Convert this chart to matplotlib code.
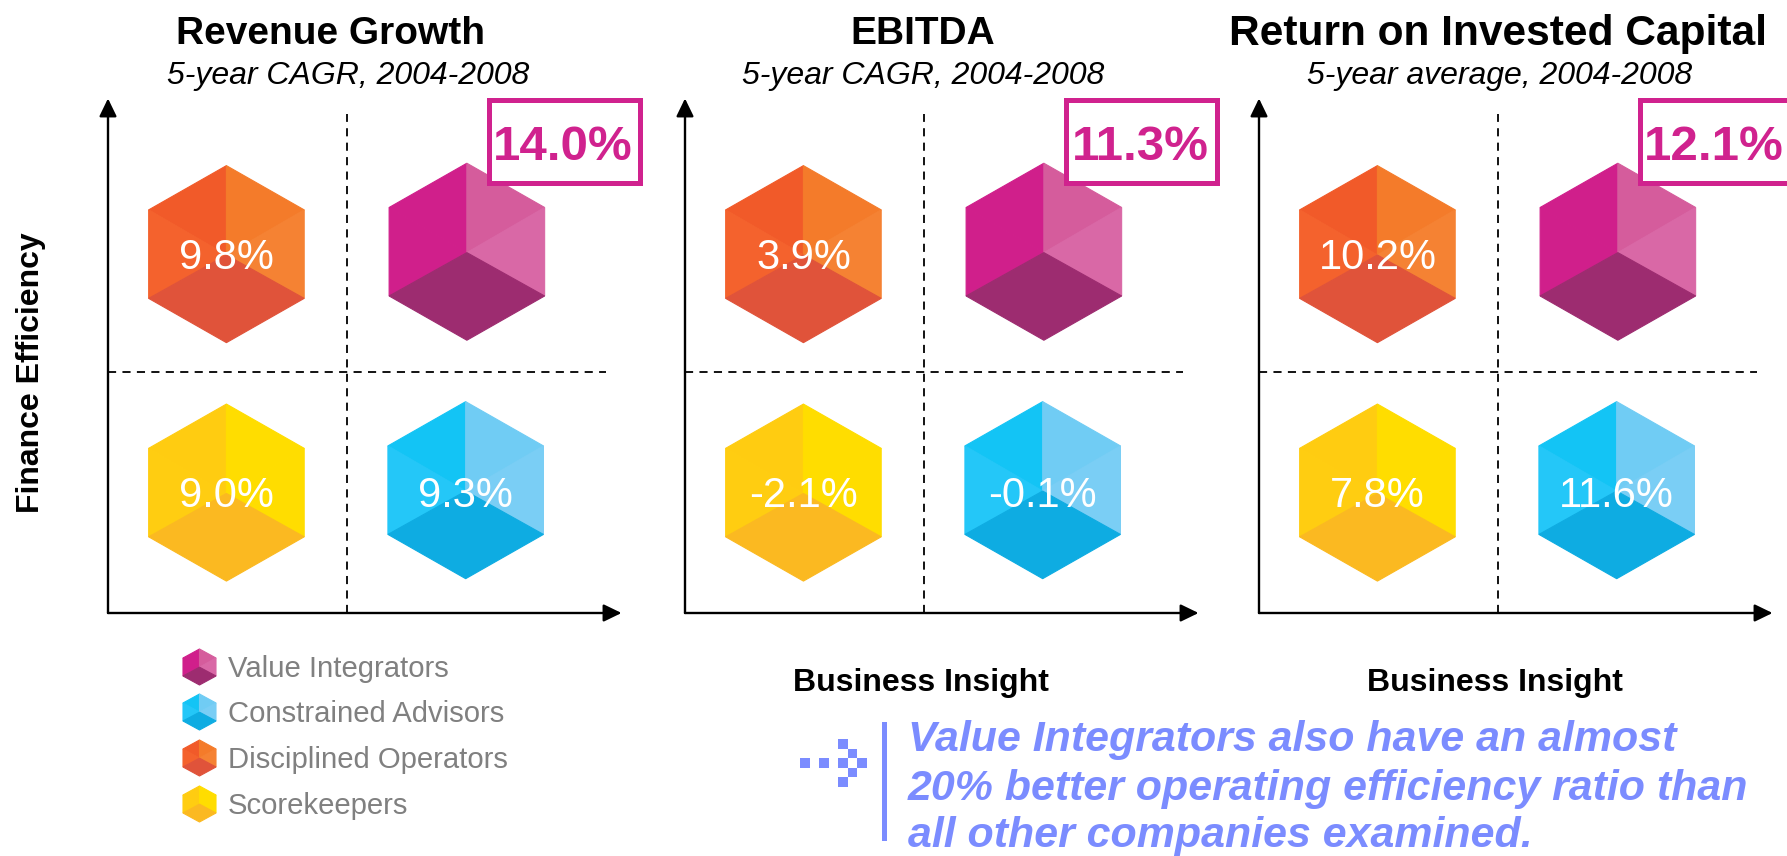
import matplotlib
matplotlib.use('Agg')
import matplotlib.pyplot as plt
from matplotlib.patches import Polygon, Rectangle

plt.rcParams['font.family'] = ['Liberation Sans', 'DejaVu Sans']

W, H = 1787, 856

# data
titles = ['Revenue Growth', 'EBITDA', 'Return on Invested Capital']
subtitles = ['5-year CAGR, 2004-2008', '5-year CAGR, 2004-2008', '5-year average, 2004-2008']
integrators = ['14.0%', '11.3%', '12.1%']
operators = ['9.8%', '3.9%', '10.2%']
scorekeepers = ['9.0%', '-2.1%', '7.8%']
advisors = ['9.3%', '-0.1%', '11.6%']
legend_names = ['Value Integrators', 'Constrained Advisors', 'Disciplined Operators', 'Scorekeepers']
callout = ['Value Integrators also have an almost',
           '20% better operating efficiency ratio than',
           'all other companies examined.']

# face colours: upper left, lower left, upper right, lower right, bottom
pink = ['#D01F8B', '#D01F8B', '#D55C9C', '#D968A6', '#9D2C70']
orange = ['#F15A29', '#F4622D', '#F47B2A', '#F58233', '#E0533A']
yellow = ['#FFCC11', '#FFCD11', '#FFDD00', '#FFDD00', '#FBB921']
blue = ['#13C4F5', '#24C7F8', '#70CCF4', '#7ACEF5', '#0EACE2']


def draw_cube(ax, cx, cy, w, h, cols, zorder=2):
    # hexagon split in five faces, centre point sits a bit under the middle
    t = (cx, cy + h / 2)
    b = (cx, cy - h / 2)
    ul = (cx - w / 2, cy + h * 0.25)
    ll = (cx - w / 2, cy - h * 0.25)
    ur = (cx + w / 2, cy + h * 0.25)
    lr = (cx + w / 2, cy - h * 0.25)
    c = (cx, cy - h * 0.005)
    faces = [[t, ul, c], [ul, ll, c], [t, ur, c], [ur, lr, c], [c, lr, b, ll]]
    for f, col in zip(faces, cols):
        ax.add_patch(Polygon(f, closed=True, fc=col, ec=col, lw=0.8, zorder=zorder))


def px_axes(left, right, top, bottom):
    return fig.add_axes([left / W, 1 - bottom / H, (right - left) / W, (bottom - top) / H])


def axis_arrow(ax, tip):
    ax.annotate('', xy=tip, xytext=(0, 0), xycoords='axes fraction',
                arrowprops=dict(arrowstyle='-|>,head_width=0.33,head_length=0.68', mutation_scale=16,
                                color='black', lw=1.7, shrinkA=0, shrinkB=0),
                annotation_clip=False)


fig = plt.figure(figsize=(W / 100, H / 100), dpi=100)

panel_left = [108, 685, 1259]
title_x = [330, 923, 1498]
title_size = [28, 28, 30.6]
sub_x = [348, 923, 1500]

# overlay in pixel coordinates for the slide furniture
over = fig.add_axes([0, 0, 1, 1], zorder=5)
over.set_xlim(0, W)
over.set_ylim(H, 0)
over.axis('off')
over.patch.set_alpha(0)

for i, left in enumerate(panel_left):
    ax = px_axes(left, left + 512, 100, 613)
    ax.set_xlim(0, 2.14)
    ax.set_ylim(0, 2.13)
    ax.axis('off')

    axis_arrow(ax, (0, 1.003))
    axis_arrow(ax, (1.003, 0))
    ax.plot([1, 1], [0, 2.07], color='black', lw=1.3, dashes=(4.5, 3.5), zorder=1)
    ax.plot([0, 2.08], [1, 1], color='black', lw=1.3, dashes=(4.5, 3.5), zorder=1)

    # x, y, colours, value, y of the value label
    quadrants = [(0.495, 1.49, orange, operators[i], 1.473), (1.5, 1.5, pink, None, None),
                 (0.495, 0.5, yellow, scorekeepers[i], 0.487), (1.495, 0.51, blue, advisors[i], 0.487)]
    for qx, qy, cols, val, ly in quadrants:
        draw_cube(ax, qx, qy, 0.65, 0.735, cols)
        if val is not None:
            ax.text(qx, ly, val, color='white', fontsize=30, ha='center', va='center', zorder=3)

    # highlighted value box, the last one runs off the slide
    over.add_patch(Rectangle((left + 381, 100), 151, 83, fc='white', ec='#D0228E', lw=3.6, zorder=3))
    over.text(left + 455, 147, integrators[i], color='#D0228E', fontsize=35.5, fontweight='bold',
              ha='center', va='center', zorder=4)

    over.text(title_x[i], 34, titles[i], fontsize=title_size[i], fontweight='bold', ha='center', va='center')
    over.text(sub_x[i], 76, subtitles[i], fontsize=23, fontstyle='italic', ha='center', va='center')

over.text(31, 373, 'Finance Efficiency', fontsize=23, fontweight='bold', rotation=90, ha='center', va='center')
over.text(921, 683, 'Business Insight', fontsize=23, fontweight='bold', ha='center', va='center')
over.text(1495, 683, 'Business Insight', fontsize=23, fontweight='bold', ha='center', va='center')

# legend
leg_y = [667, 712, 758, 804]
for name, cols, y in zip(legend_names, [pink, blue, orange, yellow], leg_y):
    # y axis of the overlay is flipped, so the cube gets a negative height
    draw_cube(over, 199.5, y, 33, -36, cols)
    over.text(228, y + 2, name, color='#808080', fontsize=21.1, ha='left', va='center')

# callout
arrow_col = '#7B8CFF'
cell = 9.5
arrow_cells = [(0, 0), (2, 0), (4, -2), (5, -1), (4, 0), (6, 0), (5, 1), (4, 2)]
for cx, cy in arrow_cells:
    over.add_patch(Rectangle((800 + cx * cell, 758 + cy * cell), cell, cell, fc=arrow_col, ec='none'))
over.add_patch(Rectangle((882, 722), 5, 119, fc=arrow_col, ec='none'))
for line, y in zip(callout, [740, 789, 836]):
    over.text(908, y, line, color=arrow_col, fontsize=30.9, fontweight='bold', fontstyle='italic',
              ha='left', va='center')

fig.savefig('out.png', dpi=100, facecolor='white')
